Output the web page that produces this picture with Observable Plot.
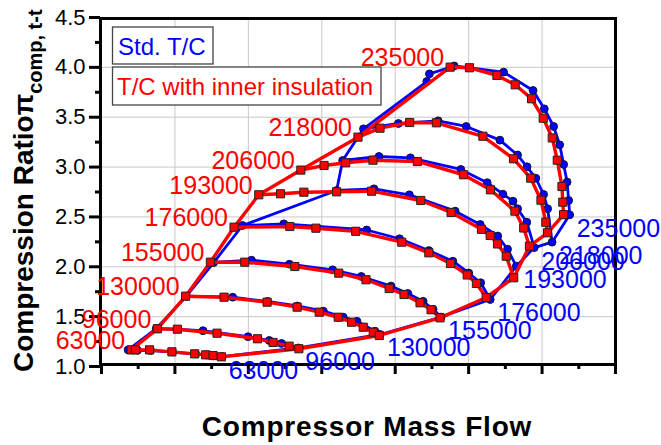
<!DOCTYPE html>
<html><head><meta charset="utf-8">
<script src="https://cdn.jsdelivr.net/npm/d3@7"></script>
<script src="https://cdn.jsdelivr.net/npm/@observablehq/plot@0.6"></script>
<style>body{margin:0;background:#fff} svg{display:block}</style>
</head><body><div id="chart"></div>
<script>
// Speed lines (rpm) and series
const speeds = [63000, 96000, 130000, 155000, 176000, 193000, 206000, 218000, 235000];
const seriesNames = ["Std. T/C", "T/C with inner insulation"];
const yTicks = [1.0, 1.5, 2.0, 2.5, 3.0, 3.5, 4.0, 4.5];
const yMinorTicks = [1.25, 1.75, 2.25, 2.75, 3.25, 3.75, 4.25];
const xTicks = [0, 1, 2, 3, 4, 5, 6, 7];
const xMinorTicks = [0.5, 1.5, 2.5, 3.5, 4.5, 5.5, 6.5];

// Std. T/C  [mass flow (arb.), pressure ratio]
const std63000 = [[0.362,1.167],[0.491,1.162],[0.669,1.160],[0.969,1.145],[1.283,1.125],[1.433,1.115],[1.528,1.107],[1.637,1.100]];
const std96000 = [[0.746,1.381],[1.382,1.359],[1.996,1.299],[2.285,1.261],[2.452,1.231],[2.681,1.186]];
const std130000 = [[1.156,1.705],[1.787,1.695],[2.261,1.652],[2.667,1.607],[3.022,1.555],[3.292,1.495],[3.479,1.454],[3.725,1.354],[3.793,1.321]];
const std155000 = [[1.528,2.043],[2.043,2.066],[2.558,2.026],[3.148,1.970],[3.538,1.903],[3.943,1.807],[4.172,1.732],[4.380,1.654],[4.516,1.574],[4.625,1.496]];
const std176000 = [[1.920,2.414],[2.483,2.431],[3.612,2.369],[4.059,2.281],[4.459,2.163],[4.785,2.056],[5.001,1.938],[5.164,1.840],[5.294,1.672]];
const std193000 = [[3.202,2.765],[3.711,2.782],[4.193,2.722],[4.817,2.558],[5.158,2.424],[5.396,2.309],[5.530,2.176],[5.649,2.006]];
const std206000 = [[3.284,3.066],[3.779,3.106],[4.207,3.093],[4.894,2.976],[5.253,2.843],[5.467,2.728],[5.604,2.658],[5.667,2.582],[5.792,2.447],[5.894,2.193]];
const std218000 = [[3.568,3.384],[4.043,3.437],[4.585,3.464],[4.967,3.407],[5.426,3.270],[5.666,3.121],[5.795,3.003],[5.915,2.888],[6.021,2.725],[6.076,2.582],[6.136,2.247]];
const std235000 = [[4.430,3.858],[4.466,3.935],[4.803,4.014],[5.476,3.952],[5.877,3.768],[6.031,3.584],[6.158,3.407],[6.240,3.223],[6.294,3.026],[6.341,2.850],[6.362,2.665],[6.376,2.521]];

// T/C with inner insulation
const ins63000 = [[0.405,1.167],[0.460,1.167],[0.655,1.167],[0.959,1.147],[1.269,1.127],[1.419,1.117],[1.519,1.110],[1.633,1.097]];
const ins96000 = [[0.760,1.378],[1.033,1.374],[1.573,1.334],[2.124,1.278],[2.337,1.241],[2.555,1.204],[2.688,1.178]];
const ins130000 = [[1.146,1.705],[1.669,1.695],[2.255,1.645],[2.664,1.595],[2.965,1.545],[3.224,1.494],[3.406,1.444],[3.565,1.394],[3.701,1.344],[3.783,1.311]];
const ins155000 = [[1.483,2.046],[1.951,2.046],[2.633,2.003],[3.231,1.936],[3.602,1.870],[3.918,1.782],[4.120,1.722],[4.338,1.639],[4.488,1.569],[4.611,1.488]];
const ins176000 = [[1.805,2.397],[2.565,2.404],[2.920,2.387],[3.462,2.356],[4.089,2.247],[4.458,2.140],[4.753,2.033],[4.980,1.918],[5.106,1.833],[5.239,1.692]];
const ins193000 = [[2.142,2.722],[2.438,2.732],[2.756,2.748],[3.202,2.752],[3.679,2.758],[4.348,2.665],[4.761,2.545],[5.175,2.376],[5.293,2.314],[5.393,2.229],[5.512,2.106],[5.614,1.890]];
const ins206000 = [[2.715,2.970],[3.031,3.016],[3.325,3.043],[3.697,3.069],[4.301,3.056],[4.929,2.923],[5.297,2.772],[5.630,2.558],[5.750,2.389],[5.828,2.207]];
const ins218000 = [[3.493,3.300],[3.793,3.390],[4.197,3.447],[4.561,3.444],[5.194,3.309],[5.611,3.083],[5.845,2.889],[5.985,2.668],[6.051,2.447],[6.075,2.341]];
const ins235000 = [[4.748,4.002],[5.011,3.996],[5.385,3.919],[5.634,3.825],[5.857,3.685],[6.016,3.490],[6.139,3.292],[6.207,3.069],[6.271,2.805],[6.282,2.648],[6.293,2.523]];

const stdCurves = [std63000, std96000, std130000, std155000, std176000, std193000, std206000, std218000, std235000];
const insCurves = [ins63000, ins96000, ins130000, ins155000, ins176000, ins193000, ins206000, ins218000, ins235000];

const toRows = curves => curves.flatMap((c, i) => c.map(([x, y]) => ({speed: speeds[i], x, y})));
const firsts = curves => curves.map((c, i) => ({speed: speeds[i], x: c[0][0], y: c[0][1]}));
const lasts = curves => curves.map((c, i) => ({speed: speeds[i], x: c[c.length-1][0], y: c[c.length-1][1]}));

const stdRows = toRows(stdCurves), insRows = toRows(insCurves);
const stdSurge = firsts(stdCurves), stdChoke = lasts(stdCurves);
const insSurge = firsts(insCurves), insChoke = lasts(insCurves);

const BLUE = "#0000ff", RED = "#ff0000";
const FONT = "Arial, 'Liberation Sans', Helvetica, sans-serif";
const lineOpts = (stroke, w) => ({x: "x", y: "y", stroke, strokeWidth: w, strokeLinejoin: "round", strokeLinecap: "round"});

const svg = Plot.plot({
  width: 661, height: 445,
  marginLeft: 100, marginRight: 46, marginTop: 18, marginBottom: 81,
  style: {fontFamily: FONT, background: "white", overflow: "visible"},
  x: {domain: [0, 7], range: [101, 615], label: null},
  y: {domain: [1, 4.5], range: [366, 17], label: null},
  marks: [
    Plot.gridX({ticks: [1, 2, 3, 4, 5, 6], stroke: "#c8c8c8", strokeOpacity: 1, strokeWidth: 1}),
    Plot.gridY({ticks: [1.5, 2, 2.5, 3, 3.5, 4], stroke: "#c8c8c8", strokeOpacity: 1, strokeWidth: 1}),
    // Std. T/C
    Plot.line(stdRows, {...lineOpts(BLUE, 2.8), z: "speed"}),
    Plot.line(stdSurge, lineOpts(BLUE, 2.8)),
    Plot.line(stdChoke, lineOpts(BLUE, 2.8)),
    Plot.dot(stdRows, {x: "x", y: "y", r: 3.9, fill: BLUE, stroke: "#111133", strokeWidth: 1}),
    // insulated
    Plot.line(insRows, {...lineOpts(RED, 3.4), z: "speed"}),
    Plot.line(insSurge, lineOpts(RED, 3.4)),
    Plot.line(insChoke, lineOpts(RED, 3.4)),
    Plot.dot(insRows, {x: "x", y: "y", symbol: "square", r: 4.6, fill: RED, stroke: "#222", strokeWidth: 1}),
    Plot.frame({stroke: "black", strokeWidth: 3}),
    Plot.axisY({ticks: yTicks, tickSize: 11, tickPadding: 4, fontSize: 22, tickFormat: d => d.toFixed(1), strokeWidth: 3, label: null}),
    Plot.axisY({ticks: yMinorTicks, tickSize: 5, tickFormat: () => "", strokeWidth: 3, label: null}),
    Plot.axisX({ticks: xTicks, tickSize: 10, tickFormat: () => "", strokeWidth: 3, label: null}),
    Plot.axisX({ticks: xMinorTicks, tickSize: 5, tickFormat: () => "", strokeWidth: 3, label: null}),
    Plot.text(insSurge, {x: "x", y: "y", text: d => String(d.speed), fill: RED, textAnchor: "end", dx: -6, dy: -9, fontSize: 25}),
    Plot.text(stdChoke, {x: "x", y: "y", text: d => String(d.speed), fill: BLUE, textAnchor: "start", dx: 7, dy: 14, fontSize: 25})
  ]
});

const s = d3.select(svg);
// Legend boxes
const leg = s.append("g").attr("font-family", FONT).attr("font-size", 24).attr("text-anchor", "start");
leg.append("rect").attr("x", 112.5).attr("y", 27).attr("width", 100.5).attr("height", 37)
  .attr("fill", "white").attr("stroke", "#444").attr("stroke-width", 1.3);
leg.append("text").attr("x", 118).attr("y", 55).attr("fill", BLUE).attr("text-anchor", "start").text(seriesNames[0]);
leg.append("rect").attr("x", 112.5).attr("y", 67).attr("width", 268.5).attr("height", 38)
  .attr("fill", "white").attr("stroke", "#444").attr("stroke-width", 1.3);
leg.append("text").attr("x", 117).attr("y", 95).attr("fill", RED).attr("text-anchor", "start").text(seriesNames[1]);

// Y axis title
const yt = s.append("text").attr("transform", "translate(33,372) rotate(-90)")
  .attr("text-anchor", "start")
  .attr("font-family", FONT).attr("font-weight", "bold").attr("font-size", 28).attr("fill", "black");
yt.append("tspan").text("Compression Ratio");
yt.append("tspan").text("π");
yt.append("tspan").attr("font-size", 20).attr("dy", 9).text("comp, t-t");

// X axis title
s.append("text").attr("x", 367).attr("y", 436).attr("text-anchor", "middle")
  .attr("font-family", FONT).attr("font-weight", "bold").attr("font-size", 28)
  .attr("letter-spacing", "0.8px").attr("fill", "black").text("Compressor Mass Flow");

document.getElementById("chart").appendChild(svg);
</script>
</body></html>
